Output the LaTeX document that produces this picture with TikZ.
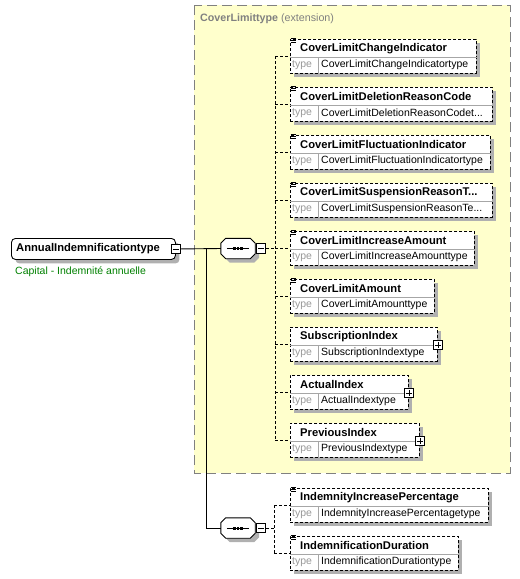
\documentclass[tikz,border=0pt]{standalone}
\usepackage{fontspec}
\setmainfont{Liberation Sans}
\usetikzlibrary{shadows}
\definecolor{extyellow}{RGB}{255,255,204}
\definecolor{extframe}{RGB}{128,128,128}
\definecolor{shadowgray}{RGB}{176,176,176}
\definecolor{notegreen}{RGB}{0,128,0}
\newcommand{\xsdcut}{...}
\tikzset{
  xsdshadow/.style={drop shadow={shadow xshift=4pt,shadow yshift=-4pt,fill=shadowgray,opacity=1}},
  elembox/.style={draw,dash pattern=on 3pt off 2pt,fill=white,xsdshadow,anchor=north west,
    minimum height=34pt,inner sep=0pt,line width=0.9pt},
  namelbl/.style={anchor=west,inner sep=0pt,font=\fontsize{11.2}{13}\selectfont\bfseries},
  typelbl/.style={anchor=west,inner sep=0pt,font=\fontsize{10.5}{12}\selectfont},
  cellline/.style={draw=gray!70,line width=0.8pt},
  link/.style={line width=0.9pt,dash pattern=on 3pt off 2pt},
  pmbox/.style={draw,fill=white,minimum size=9.5pt,inner sep=0pt,line width=0.8pt},
  pmminus/.style={pmbox,path picture={\draw[line width=0.8pt]
    ([xshift=-3pt]path picture bounding box.center) -- ([xshift=3pt]path picture bounding box.center);}},
  pmplus/.style={pmbox,path picture={\draw[line width=0.8pt]
    ([xshift=-3pt]path picture bounding box.center) -- ([xshift=3pt]path picture bounding box.center)
    ([yshift=-3pt]path picture bounding box.center) -- ([yshift=3pt]path picture bounding box.center);}},
  seqarea/.style={minimum width=34pt,minimum height=20pt,inner sep=0pt}
}
\begin{document}
\begin{tikzpicture}[x=1pt,y=-1pt]
\useasboundingbox (0,0) rectangle (520,579);

% extension area
\draw[extframe,fill=extyellow,line width=0.9pt,dash pattern=on 10pt off 5pt] (194,5) rectangle (510,473);
\node[anchor=west,inner sep=0pt,text=extframe,font=\fontsize{10.7}{12}\selectfont] (exttitle) at (200,18.5)
  {\textbf{CoverLimittype} (extension)};

% root element
\node[draw,fill=white,xsdshadow,rounded corners=4pt,anchor=north west,minimum width=164pt,
  minimum height=21pt,inner sep=0pt,line width=0.9pt] (root) at (11,238) {};
\node[namelbl] (rootlbl) at ([xshift=5pt]root.west) {AnnualIndemnificationtype};
\node[pmminus] (rootpm) at (root.east) {};
\node[anchor=west,inner sep=0pt,text=notegreen,font=\fontsize{10.5}{12}\selectfont] (rootnote) at (15,272)
  {Capital - Indemnité annuelle};

% sequence compositors
\node[seqarea] (seqa) at (238,248.5) {};
\node[seqarea] (seqb) at (238,528) {};
\foreach \s in {seqa,seqb}{
  \draw[fill=white,xsdshadow,line width=0.9pt]
    ([xshift=5pt]\s.north west) -- ([xshift=-5pt]\s.north east) -- ([yshift=-5pt]\s.north east)
    -- ([yshift=5pt]\s.south east) -- ([xshift=-5pt]\s.south east) -- ([xshift=5pt]\s.south west)
    -- ([yshift=5pt]\s.south west) -- ([yshift=-5pt]\s.north west) -- cycle;
  \draw[line width=0.9pt] ([xshift=6pt]\s.west) -- ([xshift=-6pt]\s.east);
  \foreach \d in {-3.6,0,3.6}
    \fill ([xshift=\d pt-1.2pt,yshift=1.5pt]\s.center) rectangle ++(2.4,3);
}
\node[pmminus] (seqapm) at (261,248.5) {};
\node[pmminus] (seqbpm) at (261,528) {};

\coordinate (fork) at (206.5,248.5);
\coordinate (busa) at (275,248.5);
\coordinate (busb) at (274,528);
\draw[line width=0.9pt] (rootpm.east) -- (seqa.west);
\draw[line width=0.9pt] (fork) |- (seqb.west);
\draw[link] (seqapm.east) -- (busa);
\draw[link] (seqbpm.east) -- (busb);

% child elements
\foreach \i/\t/\w/\nm/\tp/\f in {
  1/39/186/CoverLimitChangeIndicator/CoverLimitChangeIndicatortype/1,
  2/87/202/CoverLimitDeletionReasonCode/CoverLimitDeletionReasonCodet\xsdcut/1,
  3/135/200/CoverLimitFluctuationIndicator/CoverLimitFluctuationIndicatortype/1,
  4/183/202/CoverLimitSuspensionReasonT\xsdcut/CoverLimitSuspensionReasonTe\xsdcut/1,
  5/231/184/CoverLimitIncreaseAmount/CoverLimitIncreaseAmounttype/1,
  6/279/144/CoverLimitAmount/CoverLimitAmounttype/1,
  7/327/147/SubscriptionIndex/SubscriptionIndextype/0,
  8/375/118/ActualIndex/ActualIndextype/0,
  9/423/129/PreviousIndex/PreviousIndextype/0,
  10/488/198/IndemnityIncreasePercentage/IndemnityIncreasePercentagetype/1,
  11/536/168/IndemnificationDuration/IndemnificationDurationtype/1}{
  \node[elembox,minimum width=\w pt] (el\i) at (290,\t) {};
  \draw[cellline] ([yshift=-18pt]el\i.north west) -- ([yshift=-18pt]el\i.north east);
  \draw[cellline] ([xshift=28pt,yshift=-18pt]el\i.north west) -- ([xshift=28pt]el\i.south west);
  \node[namelbl] (nm\i) at ([xshift=10pt,yshift=-9.5pt]el\i.north west) {\nm};
  \node[typelbl,text=gray!80] (tk\i) at ([xshift=2pt,yshift=-26pt]el\i.north west) {type};
  \node[typelbl] (tp\i) at ([xshift=31pt,yshift=-26pt]el\i.north west) {\tp};
  \ifnum\f=1
    \foreach \k in {-1,1,3}
      \draw[line width=0.7pt] ([xshift=0.5pt,yshift=-\k pt]el\i.north west) -- ++(5.5,0);
  \else
    \node[pmplus] (pl\i) at ([yshift=-18pt]el\i.north east) {};
  \fi
}

% connectors to the children
\foreach \i in {1,...,9}
  \draw[link] (busa |- el\i.west) -- (el\i.west);
\draw[link] (busa |- el1.west) -- (busa |- el9.west);
\foreach \i in {10,11}
  \draw[link] (busb |- el\i.west) -- (el\i.west);
\draw[link] (busb |- el10.west) -- (busb |- el11.west);

\end{tikzpicture}
\end{document}
